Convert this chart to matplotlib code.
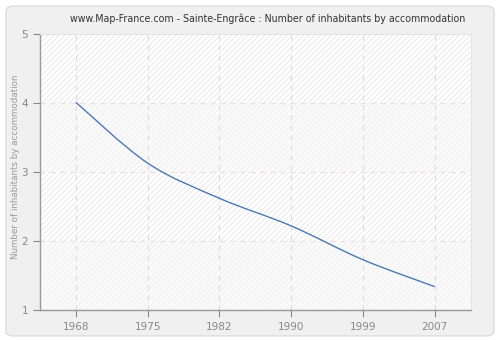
import numpy as np
import matplotlib
matplotlib.use("Agg")
from matplotlib import pyplot as plt
from matplotlib.patches import FancyBboxPatch, Rectangle
from matplotlib.path import Path
from matplotlib.patches import PathPatch

years = ["1968", "1975", "1982", "1990", "1999", "2007"]
values = [4.01, 3.13, 2.62, 2.22, 1.73, 1.34]
y_ticks = [1, 2, 3, 4, 5]

plt.rcParams['hatch.linewidth'] = 0.6

fig = plt.figure(figsize=(5, 3.4), dpi=100)
fig.patch.set_facecolor("white")

# outer rounded panel
panel = FancyBboxPatch((0.012, 0.012), 0.976, 0.97, boxstyle="round,pad=0,rounding_size=0.015",
                       transform=fig.transFigure, facecolor="#f0f0f0", edgecolor="#dddddd",
                       linewidth=1, zorder=-5)
fig.patches.append(panel)

ax = fig.add_axes([0.08, 0.088, 0.861, 0.812])
ax.set_facecolor("white")
ax.set_xlim(-0.5, 5.5)
ax.set_ylim(1, 5)

# alternating bands
for lo in range(1, 5):
    if lo % 2 == 0:
        ax.add_patch(Rectangle((-0.5, lo), 6, 1, facecolor="white", edgecolor="#e6e6e6",
                               hatch="//////", linewidth=0, zorder=0))
    else:
        ax.add_patch(Rectangle((-0.5, lo), 6, 1, facecolor="#fafafa", edgecolor="#f0f0f0",
                               hatch="//////", linewidth=0, zorder=0))

# grid
for i in range(len(years)):
    ax.axvline(i, color="#dddddd", linestyle=(0, (4, 4)), linewidth=0.9, zorder=1)
for v in y_ticks[1:-1]:
    ax.axhline(v, color="#eedde4", linestyle=(0, (4, 4)), linewidth=0.9, zorder=1)

# smooth line through data points (cubic bezier segments)
x = np.arange(len(values), dtype=float)
y = np.array(values)
verts = [(x[0], y[0])]
codes = [Path.MOVETO]
for i in range(len(x) - 1):
    p0 = (x[i - 1], y[i - 1]) if i > 0 else (x[i], y[i])
    p3 = (x[i + 2], y[i + 2]) if i + 2 < len(x) else (x[i + 1], y[i + 1])
    c1 = (x[i] + (x[i + 1] - p0[0]) / 6, y[i] + (y[i + 1] - p0[1]) / 6)
    c2 = (x[i + 1] - (p3[0] - x[i]) / 6, y[i + 1] - (p3[1] - y[i]) / 6)
    verts += [c1, c2, (x[i + 1], y[i + 1])]
    codes += [Path.CURVE4] * 3
ax.add_patch(PathPatch(Path(verts, codes), facecolor="none", edgecolor="#4a7ab5",
                       linewidth=1.0, zorder=3))

ax.set_xticks(range(len(years)))
ax.set_xticklabels(years)
ax.set_yticks(y_ticks)
ax.tick_params(colors="#888888", labelcolor="#888888", labelsize=7.5, length=5, width=0.8)

for s in ["top", "right"]:
    ax.spines[s].set_color("#e4e4e4")
    ax.spines[s].set_linewidth(0.8)
for s in ["left", "bottom"]:
    ax.spines[s].set_color("#999999")
    ax.spines[s].set_linewidth(1.0)

ax.set_ylabel("Number of inhabitants by accommodation", color="#999999", fontsize=6.3)
ax.yaxis.set_label_coords(-0.047, 0.52)

fig.text(0.535, 0.945, "www.Map-France.com - Sainte-Engrâce : Number of inhabitants by accommodation",
         ha="center", va="center", fontsize=6.85, color="#333333")

fig.savefig("out.png", dpi=100, facecolor=fig.get_facecolor())
